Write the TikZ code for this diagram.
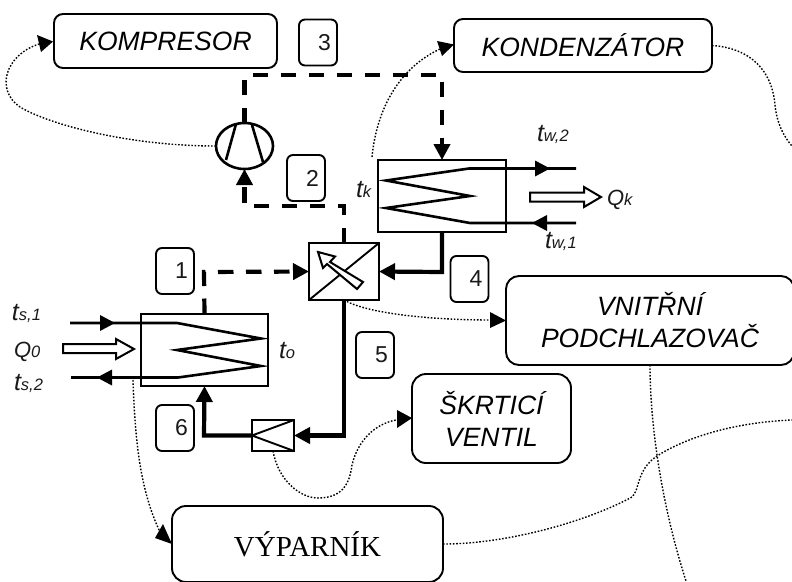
\documentclass[tikz,border=0pt]{standalone}
\usepackage{fontspec}
\setmainfont{Liberation Sans}
\newfontfamily\serifface{Liberation Serif}
\usetikzlibrary{arrows.meta,shapes.geometric}
\tikzset{
  x=1pt,y=-1pt,
  every node/.append style={inner sep=0pt,outer sep=0pt},
  lbox/.style={draw,line width=1.9pt,rounded corners=#1,align=center,font=\fontsize{26.5}{32}\selectfont\itshape},
  lbox/.default=9pt,
  numbox/.style={draw,line width=1.9pt,rounded corners=6pt,minimum width=38pt,minimum height=46pt,font=\fontsize{23}{24}\selectfont,text=black!90},
  unit/.style={draw,line width=1.9pt},
  thick pipe/.style={line width=4.2pt},
  dash pipe/.style={line width=4.2pt,dash pattern=on 15.5pt off 12.5pt},
  thin pipe/.style={line width=2.6pt},
  hx/.style={line width=2.6pt},
  info/.style={line width=1.4pt,dash pattern=on 1.6pt off 1.7pt},
  tip/.style={-{Triangle[length=16pt,width=16pt]}},
  lab/.style={anchor=base west,font=\fontsize{25}{26}\selectfont\itshape,text=black!90},
  open/.style={draw,line width=2pt,fill=white},
}
\newcommand{\lbl}[2]{#1{\fontsize{16.5}{17}\selectfont #2}}
\newcommand{\qbl}[2]{{\fontsize{22}{24}\selectfont #1}{\fontsize{16.5}{17}\selectfont #2}}
\begin{document}
\begin{tikzpicture}
\useasboundingbox (0,0) rectangle (792,581);
% label boxes
\node[lbox,minimum width=223pt,minimum height=54pt] (komp) at (165.5,41) {KOMPRESOR};
\node[lbox,minimum width=258pt,minimum height=53pt] (kond) at (583,45.5) {KONDENZÁTOR};
\node[lbox=13pt,minimum width=288pt,minimum height=89pt] (vnit) at (650,320.5) {VNITŘNÍ\\PODCHLAZOVAČ};
\node[lbox=14pt,minimum width=159pt,minimum height=89pt] (skrt) at (491.5,418.5) {ŠKRTICÍ\\VENTIL};
\node[lbox=14pt,minimum width=271pt,minimum height=76pt,font=\fontsize{29}{32}\selectfont\serifface] (vypa) at (307.5,544) {VÝPARNÍK};
% numbers
\node[numbox] (n3) at (318,42.5) {\hspace*{13pt}3};
\node[numbox] (n2) at (306,178) {\hspace*{13pt}2};
\node[numbox] (n1) at (175,271) {\hspace*{13pt}1};
\node[numbox] (n4) at (469.5,279) {\hspace*{13pt}4};
\node[numbox] (n5) at (375,355) {\hspace*{13pt}5};
\node[numbox] (n6) at (175,428) {\hspace*{13pt}6};
% components
\node[unit,ellipse,minimum width=57pt,minimum height=46pt,line width=2.6pt] (comp) at (244.5,146) {};
\draw[hx] (236,124) -- (226,160) (252,125) -- (263,162);
\node[unit,minimum width=128pt,minimum height=72pt] (cond) at (442,196) {};
\node[unit,minimum width=127pt,minimum height=72pt] (evap) at (204.5,350) {};
\node[unit,minimum width=70pt,minimum height=57pt] (ihx) at (344,271.5) {};
\node[unit,minimum width=42pt,minimum height=31pt] (valve) at (273,435.5) {};
\draw[line width=1.9pt] (ihx.south west) -- (ihx.north east);
\draw[open] (318,252) -- (335,256.5) -- (330,262) -- (363,282) -- (357,289) -- (327,264) -- (323,268) -- cycle;
\draw[line width=1.9pt] (valve.west) -- (valve.north east) (valve.west) -- (valve.south east);
% zigzags
\coordinate (cin) at (576,168.5);
\coordinate (cout) at (576,223);
\coordinate (ein) at (70,323);
\coordinate (eout) at (71,377.5);
\draw[thin pipe] (cin) -- (469,168.5) -- (386,180.5) -- (470,196) -- (386,208) -- (470,223) -- (cout);
\draw[thin pipe] (ein) -- (177,323) -- (261,338.5) -- (177,350) -- (261,366) -- (178,377.5) -- (eout);
\fill (535,160.5) -- (550,168.5) -- (535,176.5) -- cycle;
\fill (532,223) -- (547,215) -- (547,231) -- cycle;
\fill (100,315) -- (115,323) -- (100,331) -- cycle;
\fill (97,377.5) -- (112,369.5) -- (112,385.5) -- cycle;
% pipes
\coordinate (a1) at (244.5,75);
\coordinate (a2) at (442,75);
\draw[dash pipe,tip] (comp.north) -- (a1) -- (a2) -- (cond.north);
\coordinate (b1) at (344,206);
\coordinate (b2) at (244.5,206);
\draw[dash pipe,tip] (ihx.north) -- (b1) -- (b2) -- (comp.south);
\coordinate (d1) at (204,272);
\draw[dash pipe,tip] (evap.north) -- (d1) -- (ihx.west);
\coordinate (e1) at (442,272);
\draw[thick pipe,tip] (cond.south) -- (e1) -- (ihx.east);
\coordinate (f1) at (344,435.5);
\draw[thick pipe,tip] (ihx.south) -- (f1) -- (valve.east);
\coordinate (g1) at (204,435.5);
\draw[thick pipe,tip] (valve.west) -- (g1) -- (evap.south);
% open arrows
\draw[open] (530,192.5) -- (584,192.5) -- (584,187) -- (601,197) -- (584,207) -- (584,201.5) -- (530,201.5) -- cycle;
\draw[open] (63,344) -- (116,344) -- (116,339) -- (134,349) -- (116,359) -- (116,353) -- (63,353) -- cycle;
% information lines
\draw[info] (comp.west) .. controls (130,146) and (50,125) .. (20,107) .. controls (-5,90) and (5,55) .. (39,44);
\fill (53,41.5) -- (37,35) -- (41,52) -- cycle;
\coordinate (i2) at (372,157);
\draw[info] (i2) .. controls (376,115) and (395,70) .. (440,49);
\fill (454,44.5) -- (437,41) -- (442,56) -- cycle;
\draw[info] (kond.east) .. controls (750,48) and (772,70) .. (775,105) .. controls (777,125) and (785,138) .. (792,146);
\draw[info] (ihx.south) .. controls (370,315) and (440,320) .. (490,320);
\fill (vnit.west) -- (490,312) -- (490,328) -- cycle;
\draw[info] (273,451) .. controls (278,480) and (300,498) .. (318,498) .. controls (345,498) and (350,480) .. (352,465) .. controls (358,440) and (375,424) .. (396,420);
\fill (412,418) -- (397,410) -- (397,428) -- cycle;
\draw[info] (133,380) .. controls (135,440) and (140,490) .. (160,532);
\fill (vypa.west) -- (163,524) -- (155,538) -- cycle;
\draw[info] (vypa.east) .. controls (510,544) and (590,520) .. (632,497) .. controls (640,490) and (636,470) .. (657,456) .. controls (690,435) and (740,422) .. (792,420);
\draw[info] (vnit.south) .. controls (650,420) and (660,500) .. (686,581);
% text
\node[lab] (tw2) at (537,141) {\lbl{t}{w,2}};
\node[lab] (tw1) at (545,248) {\lbl{t}{w,1}};
\node[lab] (tk) at (356,197) {\lbl{t}{k}};
\node[lab] (qk) at (607,205) {\qbl{Q}{k}};
\node[lab] (ts1) at (12,320) {\lbl{t}{s,1}};
\node[lab] (ts2) at (14,390) {\lbl{t}{s,2}};
\node[lab] (q0) at (14,357) {\qbl{Q}{0}};
\node[lab] (to) at (279,358) {\lbl{t}{o}};
\end{tikzpicture}
\end{document}
